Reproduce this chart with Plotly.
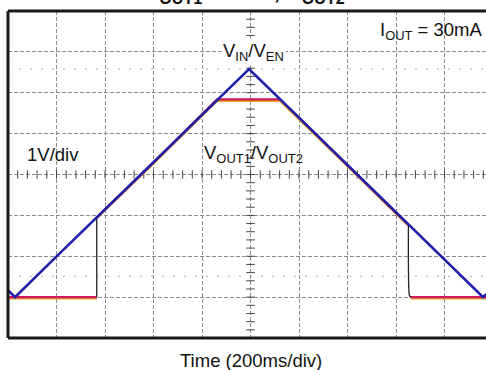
import numpy as np
import plotly.graph_objects as go

# ---- data (time in ms, 200 ms/div; voltage in V, 1 V/div) ----
vin_t = [0, 29, 194, 400, 600, 800, 994, 1200, 1400, 1604, 1800, 1959, 1971]
vin_v = [0.17, 0.0, 0.96, 2.14, 3.30, 4.46, 5.58, 4.39, 3.23, 2.05, 0.92, 0.0, 0.07]

vout1_t = [0, 366, None, 366, 600, 862, 1122, 1400, 1649, None, 1660, 1971]
vout1_v = [0.0, 0.0, None, 1.95, 3.29, 4.84, 4.84, 3.22, 1.78, None, 0.0, 0.0]

vout2_t = [0, 366, None, 366, 600, 862, 1122, 1400, 1649, None, 1660, 1971]
vout2_v = [-0.03, -0.03, None, 1.93, 3.27, 4.80, 4.80, 3.20, 1.76, None, -0.03, -0.03]

edge_up_t = [366, 366]
edge_up_v = [0.0, 1.95]
edge_dn_t = [1651, 1653, 1656, 1662]
edge_dn_v = [1.76, 0.18, 0.03, 0.0]

cursor_levels = [5.58, 0.51]

X_MAX = 1971.0
Y_MIN, Y_MAX = -1, 7
FONT = "Liberation Sans, Arial, sans-serif"
FS = 18.5

fig = go.Figure()

# minor ticks on centre cross-hair
cx = np.arange(0, X_MAX + 1, 40)
cy = np.arange(Y_MIN, Y_MAX + 0.01, 0.2)
fig.add_trace(go.Scatter(x=cx, y=[3] * len(cx), mode="markers",
                         marker=dict(symbol="line-ns", size=6, line=dict(width=1, color="#444")),
                         hoverinfo="skip", showlegend=False))
fig.add_trace(go.Scatter(x=[1000] * len(cy), y=cy, mode="markers",
                         marker=dict(symbol="line-ew", size=6, line=dict(width=1, color="#444")),
                         hoverinfo="skip", showlegend=False))

fig.add_trace(go.Scatter(x=vout2_t, y=vout2_v, mode="lines", line=dict(color="#e0a028", width=2.2),
                         name="VOUT2", showlegend=False))
fig.add_trace(go.Scatter(x=vout1_t, y=vout1_v, mode="lines", line=dict(color="#d01a5e", width=2.2),
                         name="VOUT1", showlegend=False))
fig.add_trace(go.Scatter(x=edge_up_t, y=edge_up_v, mode="lines", line=dict(color="#222", width=1.3),
                         showlegend=False))
fig.add_trace(go.Scatter(x=edge_dn_t, y=edge_dn_v, mode="lines", line=dict(color="#222", width=1.3),
                         line_shape="spline", showlegend=False))
fig.add_trace(go.Scatter(x=vin_t, y=vin_v, mode="lines", line=dict(color="#1f1fa8", width=2.6),
                         name="VIN", showlegend=False))

shapes = []
for lv in cursor_levels:
    shapes.append(dict(type="line", xref="paper", x0=0, x1=1, yref="y", y0=lv, y1=lv,
                       line=dict(color="#aaaaaa", width=1, dash="2px,9px"), layer="below"))
# frame
frame = dict(color="#1a1a1a", width=3)
shapes += [
    dict(type="line", xref="paper", yref="paper", x0=0, x1=0, y0=0, y1=1, line=frame),
    dict(type="line", xref="paper", yref="paper", x0=0, x1=1, y0=1, y1=1, line=frame),
    dict(type="line", xref="paper", yref="paper", x0=0, x1=1, y0=0, y1=0, line=frame),
]

annotations = [
    dict(x=0.2803, y=1.0076, xref="paper", yref="paper", xanchor="left", yanchor="bottom",
         text="<b>V<sub>OUT1</sub> = 4.8V, V<sub>OUT2</sub> = 4.8V</b>", showarrow=False,
         font=dict(size=23, color="#111")),
    dict(x=1967, y=6.52, xref="x", yref="y", xanchor="right", yanchor="middle",
         text="I<sub>OUT</sub> = 30mA", showarrow=False, font=dict(size=FS, color="#111")),
    dict(x=1014, y=6.0, xref="x", yref="y", xanchor="center", yanchor="middle",
         text="V<sub>IN</sub>/V<sub>EN</sub>", showarrow=False, bgcolor="white",
         font=dict(size=FS, color="#111")),
    dict(x=70, y=3.5, xref="x", yref="y", xanchor="left", yanchor="middle",
         text="1V/div", showarrow=False, font=dict(size=FS, color="#111")),
    dict(x=800, y=3.5, xref="x", yref="y", xanchor="left", yanchor="middle",
         text="V<sub>OUT1</sub>/V<sub>OUT2</sub>", showarrow=False, font=dict(size=FS, color="#111")),
    dict(x=0.508, y=-0.07, xref="paper", yref="paper", xanchor="center", yanchor="middle",
         text="Time (200ms/div)", showarrow=False, font=dict(size=FS, color="#111")),
]

fig.update_layout(
    width=486, height=370,
    margin=dict(l=8, r=0, t=11, b=32, pad=0),
    paper_bgcolor="white", plot_bgcolor="white",
    font=dict(family=FONT),
    xaxis=dict(range=[0, X_MAX], dtick=200, tick0=0, showgrid=True, gridcolor="#8c8c8c",
               griddash="4px,2px", gridwidth=1, showticklabels=False, zeroline=False,
               ticks="", showline=False, fixedrange=True),
    yaxis=dict(range=[Y_MIN, Y_MAX], dtick=1, tick0=0, showgrid=True, gridcolor="#8c8c8c",
               griddash="4px,2px", gridwidth=1, showticklabels=False, zeroline=False,
               ticks="", showline=False, fixedrange=True),
    shapes=shapes, annotations=annotations, showlegend=False,
)

fig.write_html("out.html", config={"staticPlot": True},
               post_script="document.body.style.margin='0px';document.body.style.overflow='hidden';")
